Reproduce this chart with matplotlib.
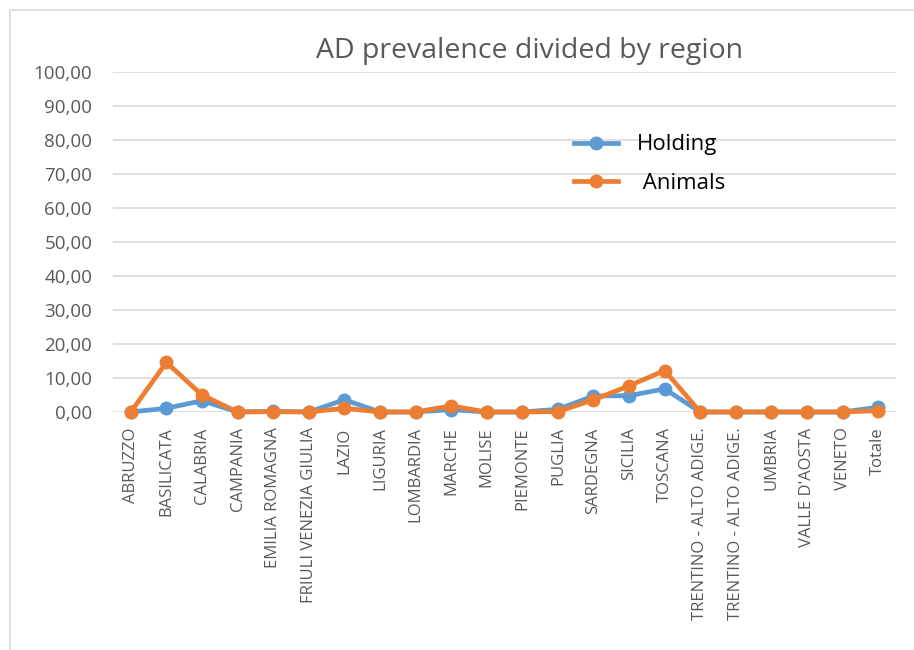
import numpy as np
import matplotlib.pyplot as plt
from matplotlib.lines import Line2D

plt.rcParams['font.family'] = ['Open Sans', 'DejaVu Sans']

regions = ['ABRUZZO', 'BASILICATA', 'CALABRIA', 'CAMPANIA', 'EMILIA ROMAGNA',
           'FRIULI VENEZIA GIULIA', 'LAZIO', 'LIGURIA', 'LOMBARDIA', 'MARCHE',
           'MOLISE', 'PIEMONTE', 'PUGLIA', 'SARDEGNA', 'SICILIA', 'TOSCANA',
           'TRENTINO - ALTO ADIGE.', 'TRENTINO - ALTO ADIGE.', 'UMBRIA',
           "VALLE D'AOSTA", 'VENETO', 'Totale']
holding = [0.0, 1.1, 3.3, 0.0, 0.2, 0.0, 3.6, 0.0, 0.0, 0.7, 0.0, 0.0,
           0.8, 4.7, 4.8, 6.8, 0.0, 0.0, 0.0, 0.0, 0.0, 1.4]
animals = [0.0, 14.6, 5.0, 0.0, 0.1, 0.0, 1.1, 0.0, 0.0, 1.8, 0.0, 0.0,
           0.1, 3.6, 7.7, 12.2, 0.0, 0.0, 0.0, 0.0, 0.0, 0.4]
yticks = np.arange(0, 101, 10)

grey = '#595959'
blue = '#5B9BD5'
orange = '#ED7D31'

fig = plt.figure(figsize=(9.14, 6.5), dpi=100)
ax = fig.add_axes([113/914, 1-412/650, (896-113)/914, (412-72)/650])

x = np.arange(len(regions))
ax.plot(x, holding, color=blue, lw=3.4, marker='o', ms=9,
        label='Holding', clip_on=False, zorder=3)
ax.plot(x, animals, color=orange, lw=3.4, marker='o', ms=9,
        label=' Animals', clip_on=False, zorder=4)

ax.set_xlim(-0.5, len(regions) - 0.5)
ax.set_ylim(0, 100)
ax.set_yticks(yticks)
ax.set_yticklabels([f'{v:.2f}'.replace('.', ',') for v in yticks])
ax.set_xticks(x)
ax.set_xticklabels(regions, rotation=90, va='top')
ax.tick_params(axis='y', length=0, pad=15, labelsize=13.5, labelcolor=grey)
ax.tick_params(axis='x', length=0, pad=11, labelsize=12, labelcolor=grey)
ax.grid(axis='y', color='#D9D9D9', lw=1.2)
ax.set_axisbelow(True)
for s in ax.spines.values():
    s.set_visible(False)

ax.legend(loc='center left', bbox_to_anchor=(0.563, 0.729), frameon=False,
          fontsize=16, handlelength=2.0, labelspacing=0.78,
          handletextpad=0.85)

fig.text(530/914, 1-51/650, 'AD prevalence divided by region',
         ha='center', va='center', fontsize=20.5, color=grey)

# outer chart frame
fig.add_artist(Line2D([10/914, 10/914, 1], [0, 1-10/650, 1-10/650],
                      color='#D9D9D9', lw=1.2, transform=fig.transFigure))

fig.savefig('out.png', dpi=100)
